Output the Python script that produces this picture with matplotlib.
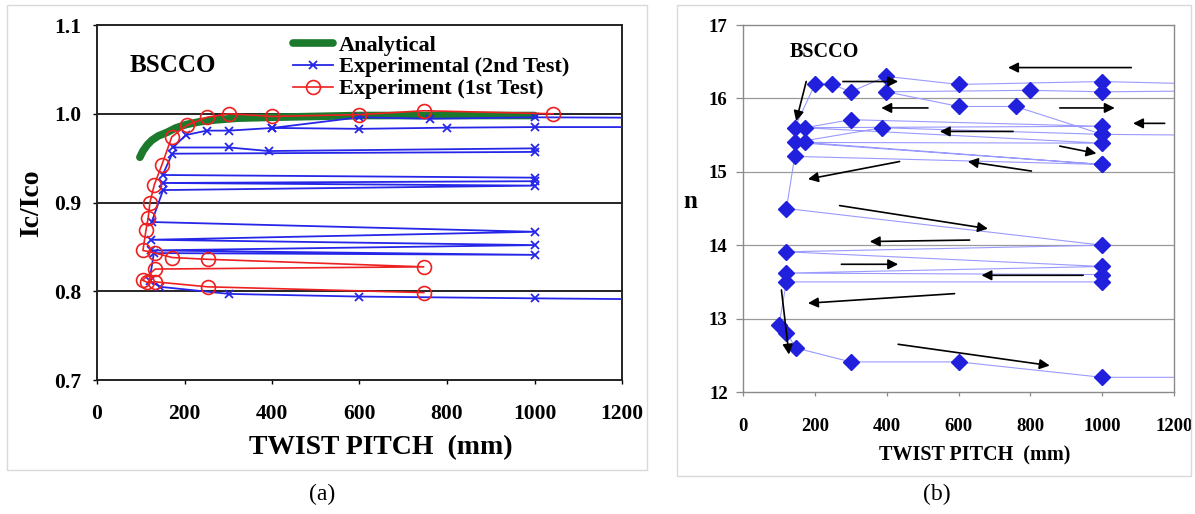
import numpy as np
import matplotlib
matplotlib.use("Agg")
import matplotlib.pyplot as plt
from matplotlib.patches import Rectangle

plt.rcParams['font.family'] = ['Liberation Serif', 'DejaVu Serif']

nan = np.nan

# ---- panel (a): Ic/Ico vs twist pitch ----
analytic_x = [98, 105, 115, 125, 140, 160, 180, 205, 235, 270, 320, 400, 500, 600, 800, 1000]
analytic_y = [0.951, 0.958, 0.965, 0.970, 0.975, 0.979, 0.984, 0.988, 0.991, 0.993,
              0.995, 0.996, 0.997, 0.998, 0.998, 0.998]

# 2nd test (NaN splits the two traces)
test2_x = [1250, 1000, 761, 600, 401, 302, 251, 203, 174, 302, 392, 1000, 1000, 172,
           150, 1000, 1000, 150, 1000, 151, 125, 1000, 123, 1000, 123, 1000, 130, 120,
           144, 302, 600, 1000, 1250, nan, 1250, 1000, 800, 600, 401]
test2_y = [0.9955, 0.996, 0.9944, 0.996, 0.984, 0.981, 0.981, 0.976, 0.962, 0.962,
           0.958, 0.961, 0.957, 0.955, 0.931, 0.928, 0.924, 0.922, 0.919, 0.914, 0.878,
           0.867, 0.858, 0.852, 0.846, 0.841, 0.843, 0.812, 0.805, 0.797, 0.794, 0.792,
           0.791, nan, 0.985, 0.985, 0.9843, 0.983, 0.984]

test1_x = [1042, 747, 599, 401, 302, 251, 205, 171, 148, 131, 121, 117, 112, 105, 133,
           172, 253, 747, 133, 104, 115, 133, 253, 747]
test1_y = [1.0, 1.0034, 0.999, 0.997, 1.0, 0.996, 0.987, 0.974, 0.942, 0.92, 0.9, 0.883,
           0.869, 0.846, 0.843, 0.838, 0.836, 0.8275, 0.825, 0.8125, 0.81, 0.8106, 0.805,
           0.7985]

# ---- panel (b): n value vs twist pitch ----
n_x = [1250, 1000, 601, 399, 300, 249, 200, 144, 1000, 300, 172, 1000, 172, 1000, 144,
       387, 1000, 759, 601, 399, 800, 1000, 1250, nan,
       1000, 1250, nan,
       1000, 144, 121, 1000, 121, 1000, 121, 1000, 1000, 121, 100, 121, 147, 300, 601,
       1000, 1250]
n_y = [16.20, 16.23, 16.19, 16.30, 16.09, 16.19, 16.19, 15.60, 15.62, 15.71, 15.60,
       15.39, 15.40, 15.10, 15.40, 15.60, 15.51, 15.89, 15.89, 16.09, 16.11, 16.09, 16.10, nan,
       15.51, 15.50, nan,
       15.10, 15.21, 14.50, 14.00, 13.91, 13.71, 13.62, 13.60, 13.50, 13.50, 12.91, 12.81,
       12.60, 12.41, 12.41, 12.20, 12.20]

# arrows drawn on panel (b): (x_start, y_start, x_head, y_head)
n_arrows = [
    (1081, 16.42, 738, 16.42),
    (278, 16.23, 432, 16.23),
    (176, 16.23, 148, 15.69),
    (515, 15.87, 385, 15.87),
    (882, 15.87, 1035, 15.87),
    (1174, 15.66, 1086, 15.66),
    (752, 15.55, 548, 15.55),
    (882, 15.35, 984, 15.25),
    (803, 15.01, 626, 15.14),
    (436, 15.14, 181, 14.90),
    (269, 14.54, 682, 14.225),
    (631, 14.07, 353, 14.05),
    (274, 13.74, 432, 13.74),
    (947, 13.59, 664, 13.59),
    (589, 13.34, 181, 13.21),
    (107, 13.39, 128, 12.51),
    (432, 12.65, 854, 12.36),
]

x_ticks = [0, 200, 400, 600, 800, 1000, 1200]
ic_ticks = [0.7, 0.8, 0.9, 1.0, 1.1]
n_ticks = [12, 13, 14, 15, 16, 17]

W, H = 1195, 514
fig = plt.figure(figsize=(W / 100, H / 100), dpi=100)

# light panel frames
fig.patches.append(Rectangle((7 / W, 1 - 470 / H), 640 / W, 465 / H, transform=fig.transFigure,
                             fill=False, edgecolor='#d9d9d9', lw=1))
fig.patches.append(Rectangle((677 / W, 1 - 476 / H), 514 / W, 471 / H, transform=fig.transFigure,
                             fill=False, edgecolor='#d9d9d9', lw=1))

# ---------- (a) ----------
ax1 = fig.add_axes([97 / W, 1 - 380 / H, 525 / W, 355 / H])
ax1.plot(analytic_x, analytic_y, color='#1c7a2c', lw=5.5, solid_capstyle='round',
         label='Analytical', zorder=2)
ax1.plot(test2_x, test2_y, color='#2626e8', lw=1.3, marker='x', ms=6, mew=1.3,
         label='Experimental (2nd Test)', zorder=3)
ax1.plot(test1_x, test1_y, color='#ee2020', lw=1.2, marker='o', ms=10, mfc='none',
         mew=1.2, label='Experiment (1st Test)', zorder=4)

ax1.set_xlim(0, 1200)
ax1.set_ylim(0.7, 1.1)
ax1.set_xticks(x_ticks)
ax1.set_yticks(ic_ticks)
ax1.set_yticklabels([f'{v:.1f}' for v in ic_ticks])
for v in [0.8, 0.9, 1.0]:
    ax1.axhline(v, color='black', lw=1.2, zorder=1)
for s in ax1.spines.values():
    s.set_color('#222222')
    s.set_linewidth(1.4)
ax1.tick_params(direction='out', length=3, width=1, pad=14, labelsize=15.5)
ax1.tick_params(axis='y', pad=8)
for lab in ax1.get_xticklabels() + ax1.get_yticklabels():
    lab.set_fontweight('bold')

ax1.set_xlabel('TWIST PITCH  (mm)', fontsize=20, fontweight='bold')
ax1.xaxis.label.set_va('center')
ax1.xaxis.set_label_coords(0.541, -0.19)
ax1.set_ylabel('Ic/Ico', fontsize=20, fontweight='bold')
ax1.yaxis.label.set_va('center')
ax1.yaxis.set_label_coords(-0.124, 0.499)

ax1.text((173 - 97) / 525, (380 - 65) / 355, 'BSCCO', transform=ax1.transAxes,
         ha='center', va='center', fontsize=18, fontweight='bold')

ax1.legend(loc='upper left', bbox_to_anchor=((293 - 97) / 525, (380 - 35) / 355),
           frameon=False, borderpad=0, borderaxespad=0, handlelength=1.8,
           handletextpad=0.28, labelspacing=0.06,
           prop={'weight': 'bold', 'size': 16})

# ---------- (b) ----------
ax2 = fig.add_axes([743 / W, 1 - 392 / H, 431 / W, 367 / H])
ax2.plot(n_x, n_y, color='#9a9aff', lw=0.8, marker='D', ms=8, mfc='#2020dd',
         mec='#2020dd', zorder=3)
for x0, y0, x1, y1 in n_arrows:
    ax2.annotate('', xy=(x1, y1), xytext=(x0, y0),
                 arrowprops=dict(arrowstyle='-|>', color='black', lw=1.2,
                                 mutation_scale=15, shrinkA=0, shrinkB=0), zorder=4)

ax2.set_xlim(0, 1200)
ax2.set_ylim(12, 17)
ax2.set_xticks(x_ticks)
ax2.set_yticks(n_ticks)
for v in [13, 14, 15, 16]:
    ax2.axhline(v, color='#9a9a9a', lw=0.9, zorder=1)
for s in ax2.spines.values():
    s.set_color('#8a8a8a')
    s.set_linewidth(1.0)
ax2.tick_params(direction='out', length=5, width=0.9, color='#8a8a8a', labelsize=13.5)
ax2.tick_params(axis='x', length=3, pad=16)
ax2.tick_params(axis='y', pad=6)
for lab in ax2.get_xticklabels() + ax2.get_yticklabels():
    lab.set_fontweight('bold')

ax2.set_xlabel('TWIST PITCH  (mm)', fontsize=14.5, fontweight='bold')
ax2.xaxis.label.set_va('center')
ax2.xaxis.set_label_coords(0.538, -0.174)
ax2.set_ylabel('n', fontsize=18, fontweight='bold', rotation=0)
ax2.yaxis.label.set_va('center')
ax2.yaxis.label.set_ha('center')
ax2.yaxis.set_label_coords(-0.123, 0.518)

ax2.text((824 - 743) / 431, (392 - 52) / 367, 'BSCCO', transform=ax2.transAxes,
         ha='center', va='center', fontsize=14.5, fontweight='bold')

fig.text(322 / W, 1 - 494 / H, '(a)', ha='center', va='center', fontsize=17)
fig.text(937 / W, 1 - 494 / H, '(b)', ha='center', va='center', fontsize=17)

fig.savefig('out.png', dpi=100)
